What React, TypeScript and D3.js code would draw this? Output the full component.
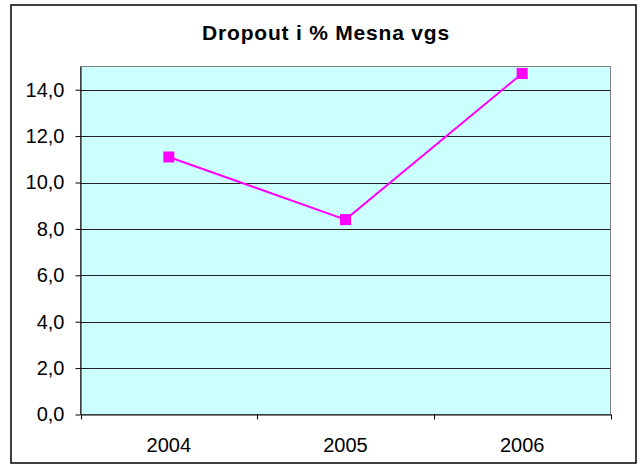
import React, { useEffect, useRef } from 'react';
import * as d3 from 'd3';

// chart data
const years = ['2004', '2005', '2006'];
const dropout = [11.1, 8.4, 14.7];
const yTicks = [0, 2, 4, 6, 8, 10, 12, 14];
const chartTitle = 'Dropout i % Mesna vgs';

const App = () => {
  const ref = useRef<SVGSVGElement>(null);

  useEffect(() => {
    const svg = d3.select(ref.current);
    svg.selectAll('*').remove();

    const left = 80.5;
    const right = 610.5;
    const top = 66.5;
    const bottom = 414.5;
    const font = 'Liberation Sans, Arial, sans-serif';

    // outer frame
    svg
      .append('rect')
      .attr('x', 11)
      .attr('y', 5)
      .attr('width', 625)
      .attr('height', 458)
      .attr('fill', 'white')
      .attr('stroke', '#000')
      .attr('stroke-width', 1.5);

    const xScale = d3.scaleBand().domain(years).range([left, right]);
    const yScale = d3.scaleLinear().domain([0, 15]).range([bottom, top]);

    // plot background
    svg
      .append('rect')
      .attr('x', left)
      .attr('y', top)
      .attr('width', right - left)
      .attr('height', bottom - top)
      .attr('fill', '#CCFFFF')
      .attr('stroke', '#808080')
      .attr('stroke-width', 1);

    // gridlines
    svg
      .append('g')
      .selectAll('line')
      .data(yTicks.filter((d) => d > 0))
      .enter()
      .append('line')
      .attr('x1', left)
      .attr('x2', right)
      .attr('y1', (d) => Math.round(yScale(d)) + 0.5)
      .attr('y2', (d) => Math.round(yScale(d)) + 0.5)
      .attr('stroke', '#222')
      .attr('stroke-width', 1);

    // y axis
    const yAxis = svg
      .append('g')
      .attr('transform', `translate(${left},0)`)
      .call(
        d3
          .axisLeft(yScale)
          .tickValues(yTicks)
          .tickSize(5)
          .tickPadding(11)
          .tickSizeOuter(0)
          .tickFormat((d) => d3.format('.1f')(d as number).replace('.', ','))
      );
    yAxis.select('.domain').attr('stroke', '#000');
    yAxis.selectAll('.tick line').attr('stroke', '#000');
    yAxis
      .selectAll('.tick text')
      .attr('font-family', font)
      .attr('font-size', 20)
      .attr('fill', '#000');

    // x axis
    const xAxis = svg
      .append('g')
      .attr('transform', `translate(0,${bottom})`)
      .call(d3.axisBottom(xScale).tickSize(0).tickSizeOuter(0));
    xAxis.select('.domain').attr('stroke', '#000');
    xAxis
      .selectAll('.tick text')
      .attr('y', 37.5)
      .attr('dy', 0)
      .attr('font-family', font)
      .attr('font-size', 20)
      .attr('fill', '#000');

    // tick marks between categories
    xAxis
      .selectAll('.sep')
      .data([...years.map((d) => xScale(d) as number), right])
      .enter()
      .append('line')
      .attr('x1', (d) => Math.round(d) + 0.5)
      .attr('x2', (d) => Math.round(d) + 0.5)
      .attr('y1', 0)
      .attr('y2', 5)
      .attr('stroke', '#000');

    // line
    const cx = (d: string) => (xScale(d) as number) + xScale.bandwidth() / 2;
    const line = d3
      .line<number>()
      .x((d, i) => cx(years[i]))
      .y((d) => yScale(d));

    svg
      .append('path')
      .datum(dropout)
      .attr('d', line)
      .attr('fill', 'none')
      .attr('stroke', '#FF00FF')
      .attr('stroke-width', 2);

    svg
      .selectAll('.marker')
      .data(dropout)
      .enter()
      .append('rect')
      .attr('x', (d, i) => cx(years[i]) - 5.5)
      .attr('y', (d) => yScale(d) - 5.5)
      .attr('width', 11)
      .attr('height', 11)
      .attr('fill', '#FF00FF');

    // title
    svg
      .append('text')
      .attr('x', 326)
      .attr('y', 40)
      .attr('text-anchor', 'middle')
      .attr('font-family', font)
      .attr('font-size', 21)
      .attr('font-weight', 'bold')
      .attr('letter-spacing', 0.8)
      .text(chartTitle);
  }, []);

  return <svg ref={ref} width={641} height={465} style={{ position: 'absolute', left: 0, top: 0 }} />;
};

export default App;
